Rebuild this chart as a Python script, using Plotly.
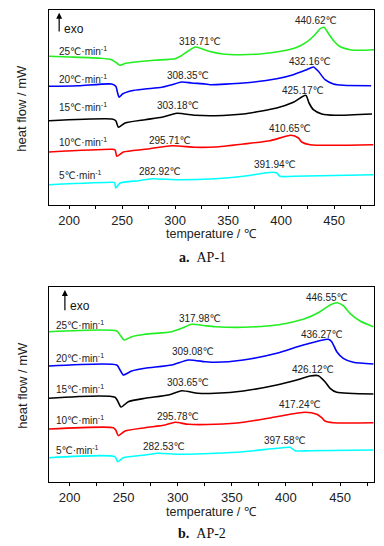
import plotly.graph_objects as go

# ---------------- data (heat flow in arbitrary offset units) -------------
RATES = ["25", "20", "15", "10", "5"]
COLORS = ["#22ee22", "#0000ff", "#000000", "#ff0000", "#00ffff"]

# AP-1
A25_T = [181, 200, 230, 240, 245, 248, 252, 260, 280, 300, 305, 312, 319, 325, 332, 345, 360, 380, 400, 415, 425, 432, 437, 440.6, 445, 450, 455, 465, 475, 488]
A25_Y = [148.7, 148, 146.7, 145.3, 142, 139.7, 141.3, 142.7, 144.7, 146.3, 148.7, 153.7, 158, 156.3, 153.7, 151, 150.3, 151, 153.7, 157.7, 163.7, 170.3, 176.3, 177.7, 171, 163.7, 158.7, 155.3, 154.7, 155.3]
A20_T = [181, 209, 240, 244, 246, 247.2, 250.3, 259, 271.7, 287.4, 296.9, 306.3, 315.8, 328.3, 333, 364.4, 395.9, 411.6, 424.2, 430.5, 435.2, 441.5, 449.4, 458.8, 485]
A20_Y = [118.7, 119.3, 121, 118.7, 111, 107.7, 111, 114.3, 116, 117.7, 120.3, 123, 122, 121, 120.3, 122, 126.3, 130.3, 135.3, 138, 133.7, 125.3, 121, 119.7, 119.3]
A15_T = [181, 240.3, 244, 246.5, 252.8, 271.7, 287.4, 301.6, 318.9, 337.7, 364.4, 395.9, 411.6, 423.3, 426.4, 430.5, 438.4, 450.9, 485.8]
A15_Y = [84.3, 86, 84.3, 77.7, 82, 85.3, 87.7, 91.7, 89.7, 89.3, 91, 97, 102.7, 109.7, 102, 95.3, 91, 89.7, 91]
A10_T = [181, 240.3, 243.4, 245, 251.2, 271.7, 296.9, 318.9, 337.7, 364.4, 389.6, 409.4, 416.4, 419.5, 427.4, 487]
A10_Y = [53, 55.7, 55, 48.7, 53, 55.7, 59.3, 57.7, 58, 61, 64.3, 69.7, 67, 63, 60.3, 60.3]
A5_T = [181, 240.3, 242.8, 244, 248.1, 265.4, 278, 303, 337.7, 364.4, 391.2, 396, 399, 411.6, 487]
A5_Y = [20.3, 22.7, 22.5, 17, 22, 24.3, 26.3, 25.3, 26.3, 28.7, 32.7, 32, 28.7, 28.7, 30.3]

# AP-2
B25_T = [181, 243.6, 246.7, 250.6, 257.5, 269.8, 294.5, 303.7, 312.9, 325.2, 334.5, 345.3, 360.6, 391.5, 416.1, 431.5, 440.8, 447.5, 453, 459.2, 468.5, 480.8]
B25_Y = [150.3, 151, 147, 142, 145.3, 147.7, 150.3, 153.7, 157.7, 156.3, 155.3, 154.7, 154.7, 157, 162.7, 170.3, 177, 179.3, 176.3, 168.7, 161, 155.3]
B20_T = [181, 243.6, 246.7, 249.7, 257.5, 269.8, 294.5, 309.8, 325.2, 334.5, 360.6, 391.5, 416.1, 439.2, 442.3, 447, 453, 462.3, 480.8]
B20_Y = [116, 117, 112, 107, 111, 113.7, 117, 122, 120.3, 119.7, 122, 128.7, 137, 142.7, 140.3, 130.3, 123.7, 119.7, 118]
B15_T = [181, 242, 247.6, 254.3, 269.8, 291.3, 303.7, 319, 334.5, 360.6, 391.5, 410, 422.3, 430, 436.1, 440.8, 447, 480.8]
B15_Y = [83.7, 84.7, 75, 80.3, 83.7, 87, 91.3, 88.7, 88.7, 91, 97, 102, 106, 106.3, 100.3, 93.7, 89.7, 88]
B10_T = [181, 240.5, 242.7, 245.1, 251.3, 269.8, 288.3, 297.5, 309.8, 334.5, 360.6, 391.5, 417.7, 428.5, 433.1, 436.1, 443.8, 480.8]
B10_Y = [53, 54.3, 52, 46.3, 51, 54.3, 57, 59.7, 57.7, 57.7, 59.7, 65.3, 69.7, 67.7, 64.3, 61, 59.3, 59.3]
B5_T = [181, 242, 244.5, 249.7, 269.8, 282.1, 300.6, 334.5, 360.6, 391.5, 403.8, 408.4, 422.3, 480.8]
B5_Y = [24.3, 25.3, 20.3, 24.3, 27, 28.7, 27.7, 28.7, 30.3, 33.7, 34.7, 31.3, 31.3, 32]

A_PEAK1 = ["318.71℃", "308.35℃", "303.18℃", "295.71℃", "282.92℃"]
A_PEAK2 = ["440.62℃", "432.16℃", "425.17℃", "410.65℃", "391.94℃"]
B_PEAK1 = ["317.98℃", "309.08℃", "303.65℃", "295.78℃", "282.53℃"]
B_PEAK2 = ["446.55℃", "436.27℃", "426.12℃", "417.24℃", "397.58℃"]

X_TICKS = [200, 250, 300, 350, 400, 450]

# ---------------- layout helpers (positions, not data) ----------------
# the page body adds an 8 px margin, so the figure is 8 px smaller and all
# reference pixel positions are shifted by that offset
OFF = 8
W, H = 384 - OFF, 546 - OFF


def xp(px):
    return (px - OFF) / W


def yp(py):
    return 1 - (py - OFF) / H


A_SERIES = [(A25_T, A25_Y), (A20_T, A20_Y), (A15_T, A15_Y), (A10_T, A10_Y), (A5_T, A5_Y)]
B_SERIES = [(B25_T, B25_Y), (B20_T, B20_Y), (B15_T, B15_Y), (B10_T, B10_Y), (B5_T, B5_Y)]

# label anchor positions in data coords
A_P1_POS = [(323.6, 164), (311.8, 130), (302.4, 100), (295.3, 65), (285.8, 33.3)]
A_P2_POS = [(433, 184.3), (427.4, 143.3), (420.3, 115), (408.5, 77), (394.3, 40.7)]
B_P1_POS = [(320.6, 163.7), (314.4, 131), (309.1, 99.3), (299.8, 66), (287.6, 36)]
B_P2_POS = [(437.7, 184.7), (433.1, 148), (425.3, 112.7), (413, 78), (399.2, 42)]
A_RATE_POS = [(188.2, 154.3), (188.2, 126), (188.2, 97.7), (188.2, 62.7), (188.2, 30.3)]
B_RATE_POS = [(185.5, 157), (185.5, 124.3), (185.5, 93), (185.5, 62), (185.5, 32)]

fig = go.Figure()

for series, xa, ya in [(A_SERIES, "x", "y"), (B_SERIES, "x2", "y2")]:
    for (t, y), c, r in zip(series, COLORS, RATES):
        fig.add_trace(go.Scatter(x=t, y=y, mode="lines", xaxis=xa, yaxis=ya,
                                 line=dict(color=c, width=1.6, shape="spline", smoothing=0.6),
                                 name=r + "℃·min-1", showlegend=False, hoverinfo="skip"))

TXT = dict(family="Liberation Sans, Arial, DejaVu Sans", size=10, color="#222")
ann = []


def add_labels(xr, yr, p1, p1pos, p2, p2pos, rpos):
    for lab, (x, y) in zip(p1, p1pos):
        ann.append(dict(x=x, y=y, xref=xr, yref=yr, text=lab, showarrow=False, font=TXT,
                        xanchor="center", yanchor="middle"))
    for lab, (x, y) in zip(p2, p2pos):
        ann.append(dict(x=x, y=y, xref=xr, yref=yr, text=lab, showarrow=False, font=TXT,
                        xanchor="center", yanchor="middle"))
    for r, (x, y) in zip(RATES, rpos):
        ann.append(dict(x=x, y=y, xref=xr, yref=yr, text=r + "℃·min<sup>-1</sup>", showarrow=False,
                        font=TXT, xanchor="left", yanchor="middle"))


add_labels("x", "y", A_PEAK1, A_P1_POS, A_PEAK2, A_P2_POS, A_RATE_POS)
add_labels("x2", "y2", B_PEAK1, B_P1_POS, B_PEAK2, B_P2_POS, B_RATE_POS)

# exo arrows
for xr, yr, ax_, y0, y1, tx, ty in [("x", "y", 190.6, 172, 192.3, 193.1, 176),
                                     ("x2", "y2", 195.7, 170.3, 192, 198.3, 176.3)]:
    ann.append(dict(x=ax_, y=y1, ax=ax_, ay=y0, xref=xr, yref=yr, axref=xr, ayref=yr,
                    showarrow=True, arrowhead=2, arrowsize=1, arrowwidth=1.2, arrowcolor="#000",
                    text=""))
    ann.append(dict(x=tx, y=ty, xref=xr, yref=yr, text="exo", showarrow=False,
                    font=dict(family="Liberation Sans, Arial", size=12, color="#111"),
                    xanchor="left", yanchor="middle"))

TITLE = dict(family="Liberation Sans, Arial", size=13, color="#222")
XTITLE = dict(family="Liberation Sans, Arial", size=12.5, color="#222")
for ypx in (108, 385):
    ann.append(dict(x=xp(21.7), y=yp(ypx), xref="paper", yref="paper", text="heat flow / mW",
                    textangle=-90, showarrow=False, font=TITLE, xanchor="center", yanchor="middle"))
for ypx in (234, 511.5):
    ann.append(dict(x=xp(211.5), y=yp(ypx), xref="paper", yref="paper", text="temperature / ℃",
                    showarrow=False, font=XTITLE, xanchor="center", yanchor="middle"))
CAP = dict(family="Liberation Serif, Times New Roman", size=14, color="#111")
for ypx, t in ((257, "<b>a.</b>\u00a0\u00a0AP-1"), (533, "<b>b.</b>\u00a0\u00a0AP-2")):
    ann.append(dict(x=xp(202), y=yp(ypx), xref="paper", yref="paper", text=t,
                    showarrow=False, font=CAP, xanchor="center", yanchor="middle"))

xdom = [xp(49), xp(374)]
common_x = dict(tickvals=X_TICKS, ticks="outside", ticklen=3, tickwidth=1, tickcolor="#000",
                showline=True, linecolor="#000", linewidth=1.4, mirror=True, showgrid=False,
                zeroline=False, tickfont=TITLE, ticklabelstandoff=0,
                minor=dict(dtick=25, tick0=200, ticks="outside", ticklen=3, tickwidth=1, tickcolor="#000"))
common_y = dict(showticklabels=False, ticks="", showline=True, linecolor="#000", linewidth=1.4,
                mirror=True, showgrid=False, zeroline=False, range=[0, 195])

fig.update_layout(
    width=W, height=H, autosize=False, margin=dict(l=0, r=0, t=0, b=0),
    paper_bgcolor="white", plot_bgcolor="white", showlegend=False,
    xaxis=dict(domain=xdom, range=[181, 487.7], anchor="y", **common_x),
    yaxis=dict(domain=[yp(205), yp(10)], anchor="x", **common_y),
    xaxis2=dict(domain=xdom, range=[181, 481.4], anchor="y2", **common_x),
    yaxis2=dict(domain=[yp(482), yp(287)], anchor="x2", **common_y),
    annotations=ann,
)

fig.write_html("out.html")
